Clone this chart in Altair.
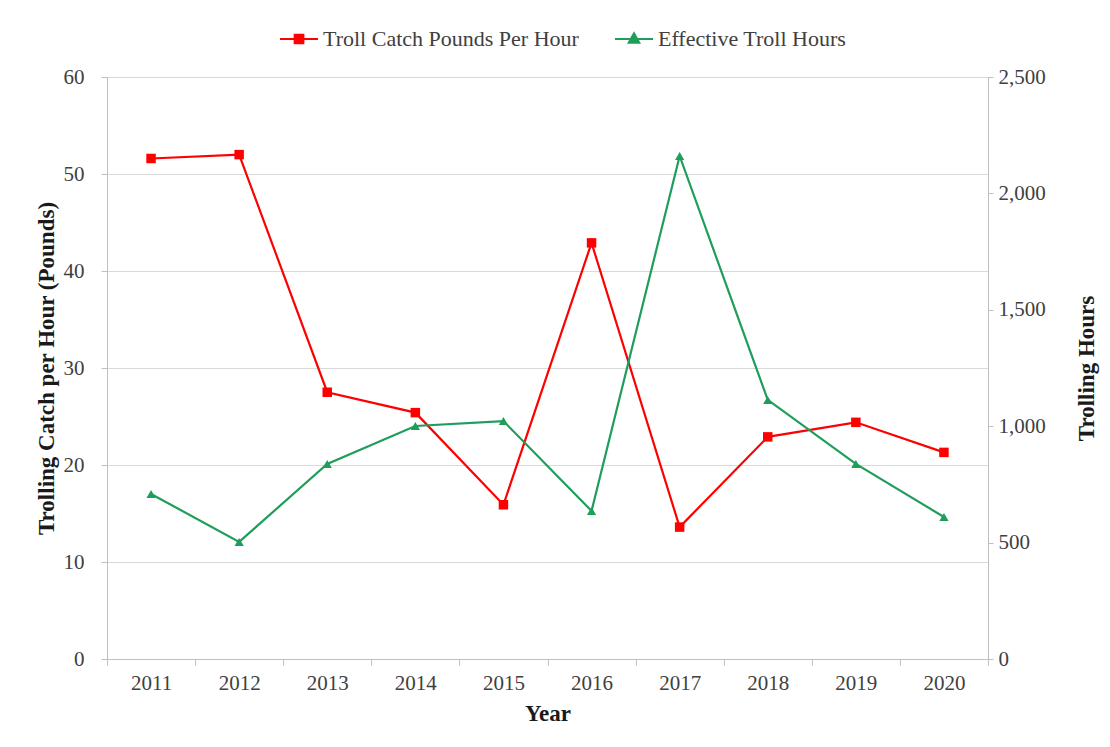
import altair as alt
import pandas as pd

years = ["2011", "2012", "2013", "2014", "2015", "2016", "2017", "2018", "2019", "2020"]
catch_per_hour = [51.6, 52.0, 27.5, 25.4, 15.9, 42.9, 13.6, 22.9, 24.4, 21.3]
troll_hours = [709, 503, 838, 1001, 1022, 636, 2161, 1113, 838, 610]
series_names = ["Troll Catch Pounds Per Hour", "Effective Troll Hours"]
series_colors = ["#ff0000", "#1f9d5b"]
left_ticks = [0, 10, 20, 30, 40, 50, 60]
right_ticks = [0, 500, 1000, 1500, 2000, 2500]

df = pd.DataFrame({"year": years, "catch": catch_per_hour, "hours": troll_hours})
legend_df = pd.DataFrame({"series": series_names})

FONT = "Liberation Serif"
GRID = "#d9d9d9"
AXIS = "#bfbfbf"
LABEL = "#404040"
TITLE = "#1a1a1a"

x_enc = alt.X(
    "year:N",
    title="Year",
    sort=years,
    bandPosition=0.5,
    scale=alt.Scale(type="band", paddingInner=0, paddingOuter=0),
    axis=alt.Axis(
        tickBand="extent", labelAngle=0, grid=False,
        domainColor=AXIS, tickColor=AXIS, tickSize=6,
        labelFont=FONT, labelFontSize=21, labelColor=LABEL, labelPadding=7,
        titleFont=FONT, titleFontSize=23, titleFontWeight="bold", titleColor=TITLE,
        titlePadding=9,
    ),
)

y_left = alt.Y(
    "catch:Q",
    title="Trolling Catch per Hour (Pounds)",
    scale=alt.Scale(domain=[0, 60]),
    axis=alt.Axis(
        orient="left", values=left_ticks, grid=True, gridColor=GRID,
        domainColor=AXIS, tickColor=AXIS, tickSize=6,
        labelFont=FONT, labelFontSize=21, labelColor=LABEL, labelPadding=17,
        titleFont=FONT, titleFontSize=23, titleFontWeight="bold", titleColor=TITLE,
        titlePadding=5,
    ),
)

y_right = alt.Y(
    "hours:Q",
    title="Trolling Hours",
    scale=alt.Scale(domain=[0, 2500]),
    axis=alt.Axis(
        orient="right", values=right_ticks, grid=False, format=",.0f",
        domainColor=AXIS, tickColor=AXIS, tickSize=5,
        labelFont=FONT, labelFontSize=21, labelColor=LABEL, labelPadding=5,
        titleFont=FONT, titleFontSize=23, titleFontWeight="bold", titleColor=TITLE,
        titlePadding=53, titleAngle=270,
    ),
)

base = alt.Chart(df)

red_line = base.mark_line(color=series_colors[0], strokeWidth=2.2).encode(x=x_enc, y=y_left)
red_pts = base.mark_point(shape="square", filled=True, size=90, opacity=1,
                          color=series_colors[0]).encode(x=x_enc, y=y_left)

green_line = base.mark_line(color=series_colors[1], strokeWidth=2.2).encode(x=x_enc, y=y_right)
green_pts = base.mark_point(shape="triangle-up", filled=True, size=85, opacity=1,
                            color=series_colors[1]).encode(x=x_enc, y=y_right)

color_scale = alt.Scale(domain=series_names, range=series_colors)
shape_scale = alt.Scale(
    domain=series_names,
    range=[
        "M-1,0H1M-0.23,-0.23H0.23V0.23H-0.23Z",
        "M-1,0H1M0,-0.3L0.28,0.2H-0.28Z",
    ],
)
leg = alt.Legend(
    orient="none", legendX=172, legendY=-58, direction="horizontal", title=None,
    labelFont=FONT, labelFontSize=22, labelColor=LABEL, labelOffset=4, labelLimit=500,
    symbolSize=1444, symbolStrokeWidth=2, symbolOpacity=1,
    columnPadding=32, padding=0,
)
legend_layer = alt.Chart(legend_df).mark_point(filled=True, opacity=0).encode(
    fill=alt.Fill("series:N", scale=color_scale, legend=leg),
    stroke=alt.Stroke("series:N", scale=color_scale, legend=leg),
    shape=alt.Shape("series:N", scale=shape_scale, legend=leg),
)

left_group = alt.layer(red_line, red_pts, legend_layer)
right_group = alt.layer(green_line, green_pts)

chart = (
    alt.layer(left_group, right_group)
    .resolve_scale(y="independent")
    .properties(
        width=881, height=582,
        autosize=alt.AutoSizeParams(type="none"),
        padding={"left": 99, "top": 69, "right": 112, "bottom": 75},
        background="white",
    )
    .configure_view(strokeWidth=0)
)

chart.save("out.html", embed_options={"renderer": "svg", "actions": False})
